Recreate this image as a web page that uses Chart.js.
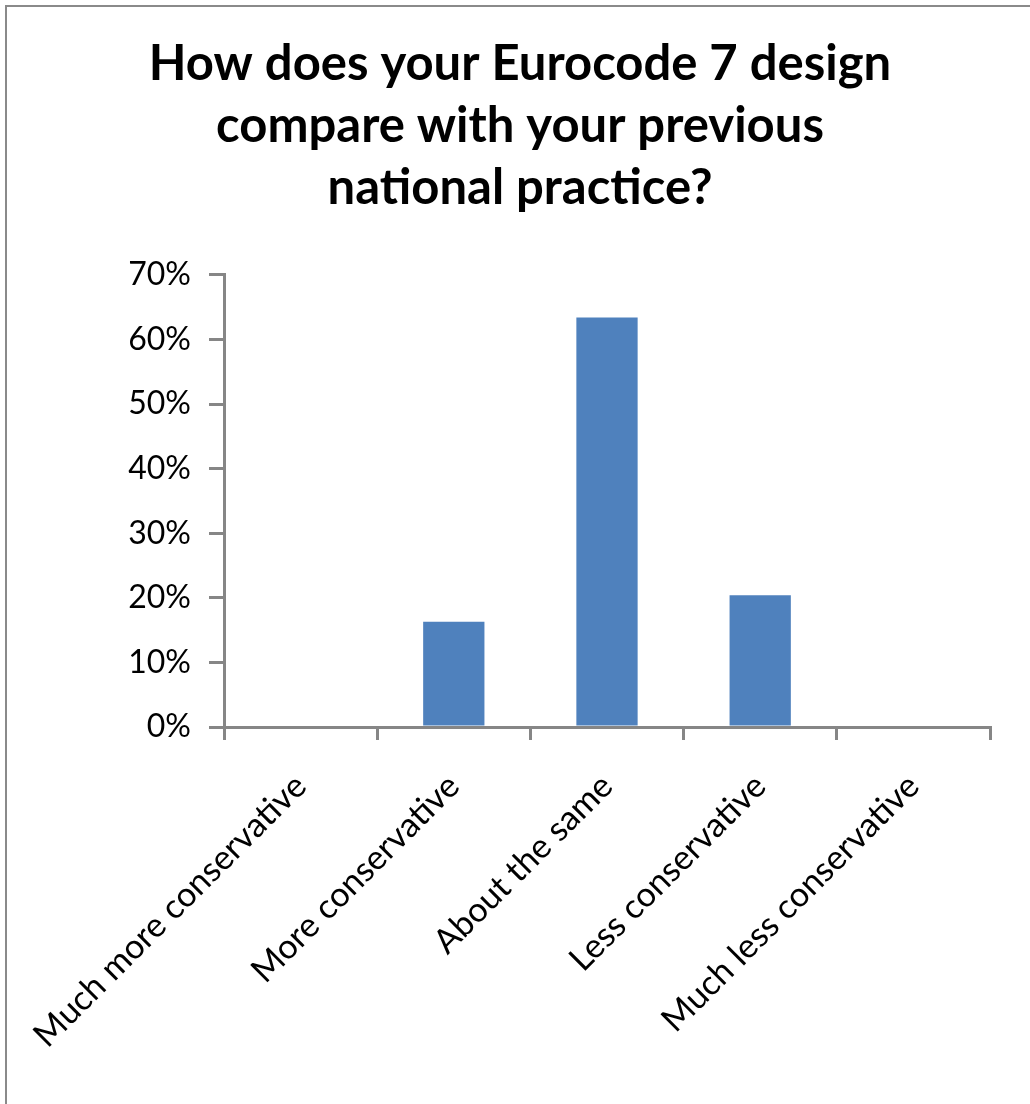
<!DOCTYPE html>
<html>
<head>
<meta charset="utf-8">
<script src="https://cdn.jsdelivr.net/npm/chart.js@4/dist/chart.umd.min.js"></script>
<style>
  html, body { margin: 0; padding: 0; background: #fff; overflow: hidden; }
  #frame { position: absolute; left: 5px; top: 5px; width: 1100px; height: 1200px; border: 2px solid #8a8a8a; }
  #chart { position: absolute; left: 0; top: 0; }
</style>
</head>
<body>
<div id="frame"></div>
<canvas id="chart" width="1030" height="1104"></canvas>
<script>
// Survey question and answer categories
const titleLines = [
  'How does your Eurocode 7 design',
  'compare with your previous',
  'national practice?'
];
const categories = [
  'Much more conservative',
  'More conservative',
  'About the same',
  'Less conservative',
  'Much less conservative'
];
// Share of respondents, in percent
const shares = [0, 16.3, 63.4, 20.4, 0];
// Value axis range and step, in percent
const yMin = 0;
const yMax = 70;
const yStep = 10;

const axisGrey = '#868686';
const barBlue = '#4f81bd';
const fontFamily = 'Lato, "Open Sans", sans-serif';

Chart.defaults.color = '#000';
Chart.defaults.font.family = fontFamily;

new Chart(document.getElementById('chart'), {
  type: 'bar',
  data: {
    labels: categories,
    datasets: [{
      data: shares,
      backgroundColor: barBlue,
      borderWidth: 0,
      barPercentage: 0.4,
      categoryPercentage: 1.0
    }]
  },
  options: {
    responsive: false,
    animation: false,
    devicePixelRatio: 1,
    layout: { padding: { left: 50, right: 40, top: 0, bottom: 0 } },
    plugins: {
      legend: { display: false },
      tooltip: { enabled: false },
      title: {
        display: true,
        text: titleLines,
        color: '#000',
        font: { family: fontFamily, size: 49, weight: 'bold', lineHeight: 1.265 },
        padding: { top: 33, bottom: 56 }
      }
    },
    scales: {
      x: {
        afterFit(scale) {
          // fixed band for the slanted labels; they may run past the plot's left edge
          scale.height = 377;
          scale.paddingLeft = 0;
          scale.paddingRight = 0;
        },
        grid: {
          display: true,
          offset: true,
          drawOnChartArea: false,
          drawTicks: true,
          tickLength: 13,
          color: axisGrey,
          lineWidth: 3
        },
        border: { display: true, color: axisGrey, width: 3 },
        ticks: {
          autoSkip: false,
          minRotation: 45,
          maxRotation: 45,
          padding: 26,
          color: '#000',
          font: { family: fontFamily, size: 34 }
        }
      },
      y: {
        min: yMin,
        max: yMax,
        afterFit(scale) { scale.width = 174; },
        grid: {
          display: true,
          drawOnChartArea: false,
          drawTicks: true,
          tickLength: 15,
          color: axisGrey,
          lineWidth: 3
        },
        border: { display: true, color: axisGrey, width: 3 },
        ticks: {
          stepSize: yStep,
          padding: 18,
          color: '#000',
          font: { family: fontFamily, size: 32 },
          callback: (v) => v + '%'
        }
      }
    }
  }
});
</script>
</body>
</html>
